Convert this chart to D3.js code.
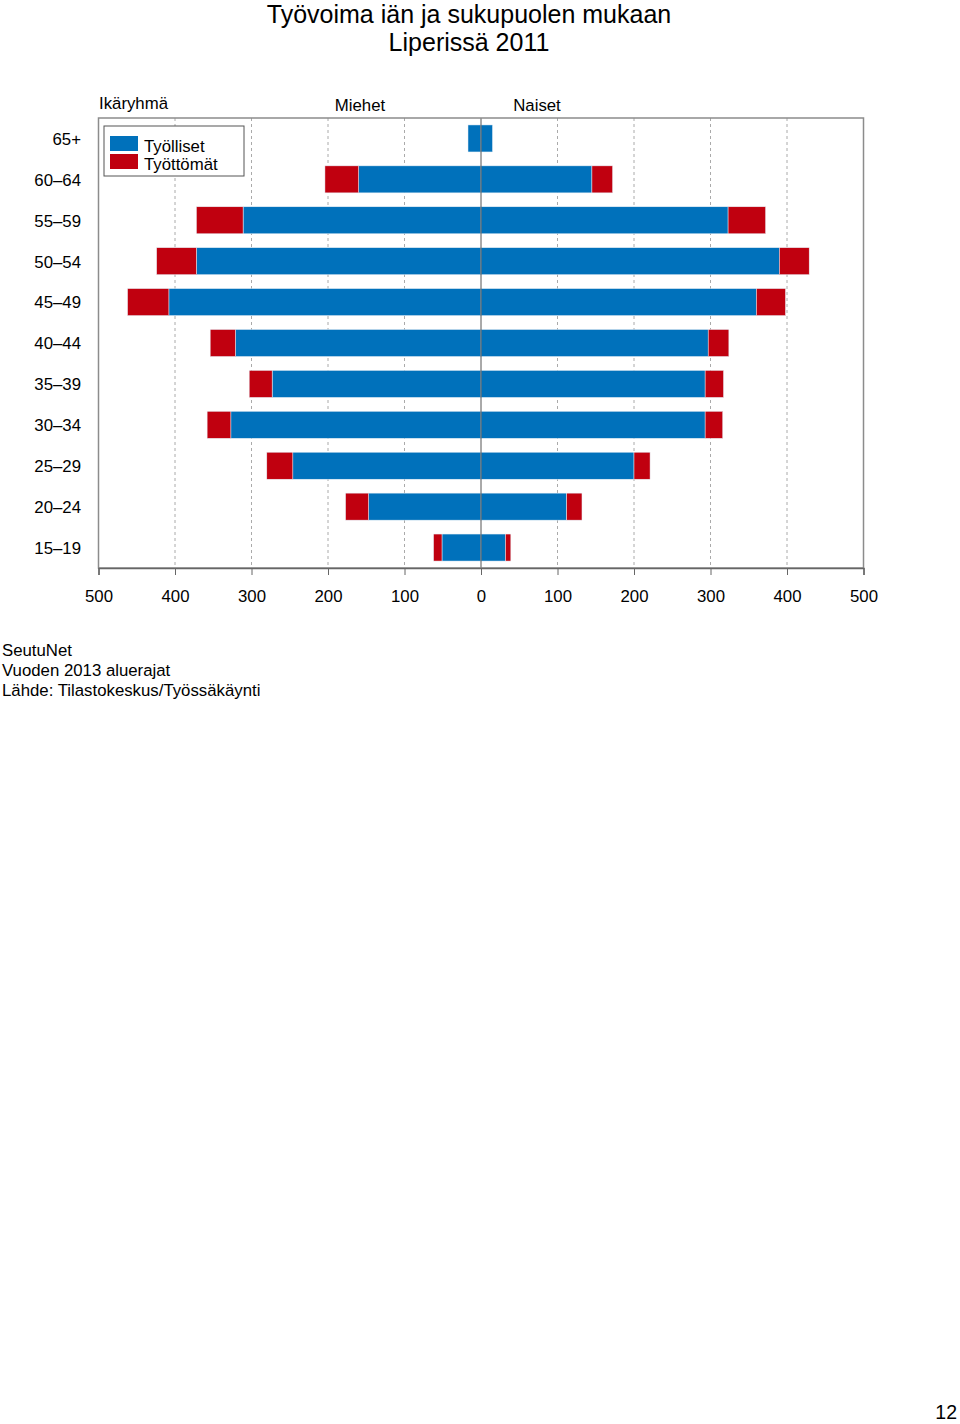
<!DOCTYPE html>
<html><head><meta charset="utf-8">
<script src="https://cdn.jsdelivr.net/npm/d3@7"></script>
<style>
html,body{margin:0;padding:0;background:#fff;}
svg{display:block;font-family:"Liberation Sans",Arial,Helvetica,sans-serif;}
</style></head>
<body>
<script>
const categories = ["15–19","20–24","25–29","30–34","35–39","40–44","45–49","50–54","55–59","60–64","65+"];
const menEmployed   = [51, 147, 246, 327, 273, 321, 408, 372, 311, 160, 17];
const menUnemployed = [11, 30, 34, 31, 30, 33, 54, 52, 61, 44, 0];
const womenEmployed   = [32, 112, 200, 293, 293, 297, 360, 390, 323, 145, 15];
const womenUnemployed = [7, 20, 21, 23, 24, 27, 38, 39, 49, 27, 0];
const tickValues = [-500,-400,-300,-200,-100,0,100,200,300,400,500];
const seriesNames = ["Työlliset","Työttömät"];
const colors = ["#0071BB","#C0000F"];

(function(){
const W = 960, H = 1424;
const FS = 16.8;
const svg = d3.select("body").append("svg").attr("width", W).attr("height", H);

const pL = 98.5, pR = 863.5, pT = 118, pB = 568;
const x = d3.scaleLinear().domain([-500, 500]).range([pL, pR]);
const y = d3.scaleBand().domain(categories).range([pB, pT]).paddingInner(0.34).paddingOuter(0.17);

// title
svg.append("text").attr("x", 469).attr("y", 22.5).attr("text-anchor","middle").attr("font-size", 25).text("Työvoima iän ja sukupuolen mukaan");
svg.append("text").attr("x", 469).attr("y", 50.5).attr("text-anchor","middle").attr("font-size", 25).text("Liperissä 2011");

// grid
svg.append("g").selectAll("line").data(tickValues.filter(d => d !== 0 && Math.abs(d) !== 500)).join("line")
  .attr("x1", d => x(d)).attr("x2", d => x(d)).attr("y1", pT).attr("y2", pB)
  .attr("stroke", "#aaa").attr("stroke-width", 1).attr("stroke-dasharray", "3,3");

// bars
const rows = categories.map((c, i) => ({c, me: menEmployed[i], mu: menUnemployed[i], we: womenEmployed[i], wu: womenUnemployed[i]}));
const g = svg.append("g");
const bh = y.bandwidth();
function bar(x0, x1, yy, col) {
  if (Math.abs(x1 - x0) < 0.01) return;
  g.append("rect").attr("x", Math.min(x0, x1)).attr("width", Math.abs(x1 - x0))
    .attr("y", yy).attr("height", bh).attr("fill", col)
    .attr("stroke", "#e6eef6").attr("stroke-width", 0.5);
}
rows.forEach(r => {
  const yy = y(r.c);
  bar(x(0), x(-r.me), yy, colors[0]);
  bar(x(-r.me), x(-r.me - r.mu), yy, colors[1]);
  bar(x(0), x(r.we), yy, colors[0]);
  bar(x(r.we), x(r.we + r.wu), yy, colors[1]);
});

// center line
svg.append("line").attr("x1", x(0)).attr("x2", x(0)).attr("y1", pT).attr("y2", pB)
  .attr("stroke", "#555").attr("stroke-width", 1);

// frame
svg.append("rect").attr("x", pL).attr("y", pT).attr("width", pR - pL).attr("height", pB - pT)
  .attr("fill", "none").attr("stroke", "#8c8c8c").attr("stroke-width", 1.5);

// x axis
const xAxis = d3.axisBottom(x).tickValues(tickValues).tickFormat(d => Math.abs(d)).tickSize(7).tickPadding(15);
const ax = svg.append("g").attr("transform", `translate(0,${pB})`).call(xAxis);
ax.select(".domain").attr("stroke", "#666").attr("stroke-width", 1.5);
ax.selectAll(".tick line").attr("stroke", "#666");
ax.selectAll("text").attr("font-size", FS).attr("fill", "#000").attr("font-family", "Liberation Sans, Arial, sans-serif");

// y labels
const yAxis = d3.axisLeft(y).tickSize(0).tickPadding(17.5);
const ay = svg.append("g").attr("transform", `translate(${pL},1)`).call(yAxis);
ay.select(".domain").remove();
ay.selectAll("text").attr("font-size", FS).attr("fill", "#000").attr("font-family", "Liberation Sans, Arial, sans-serif");

// headers
svg.append("text").attr("x", 99).attr("y", 109).attr("font-size", FS).text("Ikäryhmä");
svg.append("text").attr("x", 360).attr("y", 111).attr("text-anchor","middle").attr("font-size", FS).text("Miehet");
svg.append("text").attr("x", 537).attr("y", 111).attr("text-anchor","middle").attr("font-size", FS).text("Naiset");

// legend
const lg = svg.append("g");
lg.append("rect").attr("x", 104).attr("y", 126).attr("width", 140).attr("height", 50)
  .attr("fill", "#fff").attr("stroke", "#555").attr("stroke-width", 1);
seriesNames.forEach((n, i) => {
  lg.append("rect").attr("x", 110).attr("y", 136 + i * 18).attr("width", 28).attr("height", 15).attr("fill", colors[i]);
  lg.append("text").attr("x", 144).attr("y", 152 + i * 18).attr("font-size", FS).text(n);
});

// footer
["SeutuNet","Vuoden 2013 aluerajat","Lähde: Tilastokeskus/Työssäkäynti"].forEach((t, i) => {
  svg.append("text").attr("x", 2).attr("y", 656 + i * 20).attr("font-size", FS).text(t);
});
svg.append("text").attr("x", 957).attr("y", 1419).attr("text-anchor","end").attr("font-size", 19.5).text("12");
})();
</script>
</body></html>
